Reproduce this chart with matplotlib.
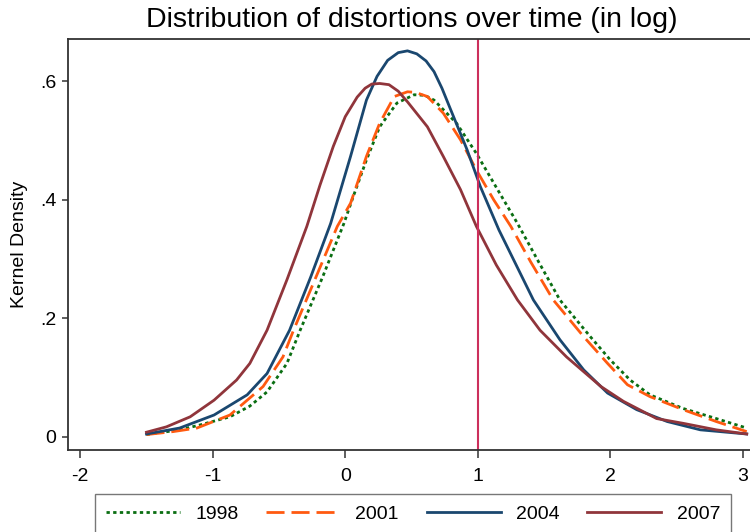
import matplotlib
matplotlib.use("Agg")
import matplotlib.pyplot as plt
from matplotlib.ticker import FuncFormatter

plt.rcParams['font.family'] = ['Liberation Sans', 'DejaVu Sans']
plt.rcParams['axes.unicode_minus'] = False

# kernel density curves (x = log distortion, y = density)
x_1998 = [-1.5, -1.25, -1.1, -0.87, -0.72, -0.59, -0.44, -0.34, -0.17, -0.01, 0.06, 0.16, 0.26,
          0.39, 0.52, 0.6, 0.67, 0.84, 0.99, 1.15, 1.3, 1.46, 1.62, 1.85, 2.0, 2.15, 2.3, 2.55,
          2.8, 3.03]
y_1998 = [0.004, 0.012, 0.02, 0.034, 0.052, 0.076, 0.124, 0.18, 0.27, 0.36, 0.405, 0.467, 0.523,
          0.563, 0.577, 0.576, 0.568, 0.529, 0.478, 0.417, 0.36, 0.295, 0.231, 0.169, 0.13,
          0.096, 0.071, 0.048, 0.031, 0.015]

x_2001 = [-1.5, -1.3, -1.12, -0.87, -0.62, -0.47, -0.39, -0.22, -0.06, 0.04, 0.16, 0.26, 0.37,
          0.47, 0.53, 0.62, 0.74, 0.87, 0.99, 1.12, 1.25, 1.4, 1.57, 1.8, 1.98, 2.13, 2.3, 2.55,
          2.8, 3.03]
y_2001 = [0.004, 0.009, 0.015, 0.037, 0.085, 0.135, 0.18, 0.27, 0.355, 0.394, 0.473, 0.529,
          0.574, 0.582, 0.581, 0.574, 0.546, 0.501, 0.45, 0.4, 0.355, 0.295, 0.231, 0.169,
          0.124, 0.088, 0.068, 0.046, 0.026, 0.009]

x_2004 = [-1.5, -1.25, -0.99, -0.74, -0.59, -0.42, -0.26, -0.11, 0.04, 0.16, 0.24, 0.32, 0.4,
          0.47, 0.54, 0.61, 0.67, 0.73, 0.79, 0.92, 1.02, 1.16, 1.29, 1.42, 1.62, 1.8, 1.98,
          2.2, 2.43, 2.68, 3.03]
y_2004 = [0.005, 0.015, 0.037, 0.071, 0.107, 0.18, 0.27, 0.36, 0.473, 0.568, 0.608, 0.635,
          0.648, 0.651, 0.646, 0.634, 0.616, 0.588, 0.555, 0.484, 0.422, 0.349, 0.29, 0.231,
          0.164, 0.113, 0.074, 0.046, 0.026, 0.012, 0.005]

x_2007 = [-1.5, -1.35, -1.17, -0.99, -0.82, -0.72, -0.59, -0.44, -0.29, -0.19, -0.09, 0.0,
          0.09, 0.15, 0.2, 0.26, 0.33, 0.4, 0.47, 0.62, 0.74, 0.87, 0.99, 1.14, 1.3, 1.47,
          1.67, 1.93, 2.1, 2.35, 2.55, 2.8, 3.03]
y_2007 = [0.008, 0.017, 0.034, 0.062, 0.096, 0.124, 0.18, 0.265, 0.355, 0.425, 0.49, 0.54,
          0.573, 0.588, 0.595, 0.596, 0.594, 0.583, 0.565, 0.523, 0.473, 0.417, 0.355, 0.29,
          0.231, 0.18, 0.135, 0.085, 0.06, 0.031, 0.023, 0.012, 0.005]

years = ["1998", "2001", "2004", "2007"]
cutoff = 1

fig = plt.figure(figsize=(7.5, 5.32), dpi=100)
ax = fig.add_axes([67.5 / 750, 1 - 450 / 532, (756 - 67.5) / 750, (450 - 39) / 532])

ax.plot(x_1998, y_1998, color="#0a6e12", lw=2.0, ls=(0, (1.2, 1.2)), label=years[0])
ax.plot(x_2001, y_2001, color="#ff5a10", lw=2.0, ls=(0, (6.5, 2.5)), label=years[1])
ax.plot(x_2004, y_2004, color="#1a476f", lw=2.0, label=years[2])
ax.plot(x_2007, y_2007, color="#90353b", lw=2.0, label=years[3])
ax.axvline(cutoff, color="#cc2f5c", lw=1.5)

ax.set_xlim(-2.096, 3.1)
ax.set_ylim(-0.022, 0.671)
ax.set_xticks([-2, -1, 0, 1, 2, 3])
ax.set_yticks([0, 0.2, 0.4, 0.6])
ax.yaxis.set_major_formatter(FuncFormatter(lambda v, p: "0" if v == 0 else f"{v:.1f}".lstrip("0")))

for s in ax.spines.values():
    s.set_color("#333333")
    s.set_linewidth(1.3)
ax.tick_params(axis="x", direction="out", length=6, width=1.1, labelsize=14, pad=7, color="#333333")
ax.tick_params(axis="y", direction="out", length=4, width=1.1, labelsize=14, pad=4, color="#333333")
ax.set_ylabel("Kernel Density", fontsize=14, labelpad=9)

fig.suptitle("Distribution of distortions over time (in log)", fontsize=20.5, x=412 / 750, y=0.986)

fig.legend(loc="upper left", bbox_to_anchor=(95 / 750, 1 - 495 / 532, 636 / 750, 0.001),
           mode="expand", ncol=4, fontsize=14, handlelength=3.8, handletextpad=0.8,
           frameon=True, fancybox=False, edgecolor="#555555", borderpad=0.55,
           borderaxespad=0)

fig.savefig("out.png", dpi=100)
